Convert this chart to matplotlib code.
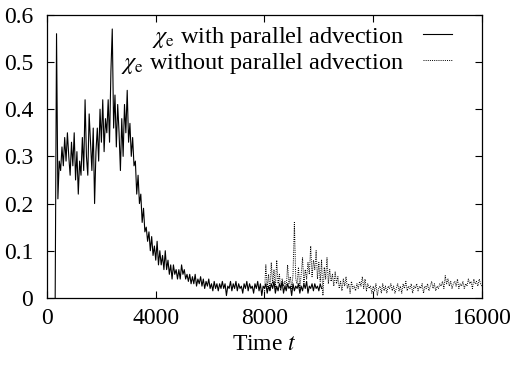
import matplotlib.pyplot as plt
import numpy as np

plt.rcParams['font.family'] = ['Liberation Serif', 'DejaVu Serif']
plt.rcParams['mathtext.fontset'] = 'stix'

# chi_e with parallel advection, sampled every 50 time units from t=300
t_with = np.arange(300, 10101, 50)
chi_with = [
    0.00, 0.56, 0.21, 0.29, 0.27, 0.32, 0.28, 0.34, 0.29, 0.35,
    0.30, 0.26, 0.33, 0.28, 0.35, 0.25, 0.31, 0.22, 0.29, 0.26,
    0.34, 0.27, 0.42, 0.30, 0.26, 0.39, 0.33, 0.27, 0.36, 0.20,
    0.31, 0.36, 0.29, 0.40, 0.33, 0.42, 0.31, 0.38, 0.35, 0.42,
    0.33, 0.48, 0.57, 0.36, 0.43, 0.32, 0.41, 0.35, 0.27, 0.38,
    0.30, 0.41, 0.35, 0.44, 0.33, 0.37, 0.30, 0.34, 0.28, 0.29,
    0.22, 0.26, 0.20, 0.22, 0.16, 0.19, 0.14, 0.15, 0.12, 0.14,
    0.10, 0.13, 0.09, 0.11, 0.08, 0.12, 0.07, 0.10, 0.07, 0.09,
    0.06, 0.10, 0.06, 0.08, 0.05, 0.07, 0.04, 0.07, 0.05, 0.06,
    0.04, 0.06, 0.04, 0.07, 0.05, 0.06, 0.04, 0.05, 0.035, 0.05,
    0.03, 0.045, 0.03, 0.05, 0.025, 0.04, 0.03, 0.045, 0.025, 0.04,
    0.02, 0.035, 0.025, 0.04, 0.02, 0.03, 0.015, 0.035, 0.02, 0.03,
    0.015, 0.03, 0.02, 0.035, 0.02, 0.03, 0.005, 0.025, 0.02, 0.035,
    0.015, 0.03, 0.02, 0.035, 0.015, 0.03, 0.02, 0.025, 0.01, 0.03,
    0.02, 0.035, 0.015, 0.03, 0.02, 0.025, 0.01, 0.03, 0.02, 0.035,
    0.015, 0.03, 0.005, 0.025, 0.02, 0.03, 0.01, 0.025, 0.015, 0.03,
    0.02, 0.035, 0.01, 0.025, 0.015, 0.03, 0.02, 0.035, 0.01, 0.025,
    0.015, 0.03, 0.02, 0.025, 0.005, 0.03, 0.015, 0.025, 0.02, 0.03,
    0.01, 0.025, 0.015, 0.03, 0.02, 0.035, 0.01, 0.025, 0.02, 0.03,
    0.015, 0.03, 0.02, 0.025, 0.015, 0.03, 0.02,
]

# chi_e without parallel advection, sampled every 50 time units from t=8000
t_without = np.arange(8000, 16001, 50)
chi_without = [
    0.01, 0.07, 0.02, 0.05, 0.015, 0.075, 0.03, 0.06, 0.02, 0.08,
    0.03, 0.05, 0.015, 0.04, 0.025, 0.035, 0.02, 0.07, 0.03, 0.045,
    0.02, 0.05, 0.16, 0.04, 0.03, 0.065, 0.02, 0.05, 0.085, 0.03,
    0.06, 0.04, 0.075, 0.05, 0.11, 0.045, 0.08, 0.06, 0.10, 0.04,
    0.075, 0.035, 0.08, 0.005, 0.065, 0.04, 0.085, 0.03, 0.06, 0.035,
    0.05, 0.025, 0.055, 0.03, 0.045, 0.02, 0.035, 0.015, 0.04, 0.025,
    0.045, 0.02, 0.03, 0.01, 0.035, 0.02, 0.025, 0.015, 0.03, 0.02,
    0.035, 0.025, 0.045, 0.02, 0.04, 0.015, 0.03, 0.02, 0.025, 0.01,
    0.025, 0.015, 0.03, 0.005, 0.02, 0.025, 0.01, 0.03, 0.015, 0.025,
    0.01, 0.025, 0.02, 0.03, 0.015, 0.025, 0.01, 0.02, 0.03, 0.015,
    0.025, 0.01, 0.03, 0.02, 0.035, 0.015, 0.025, 0.02, 0.03, 0.01,
    0.025, 0.02, 0.03, 0.015, 0.025, 0.02, 0.03, 0.01, 0.025, 0.02,
    0.03, 0.015, 0.025, 0.035, 0.02, 0.03, 0.015, 0.025, 0.02, 0.03,
    0.025, 0.035, 0.02, 0.047, 0.03, 0.04, 0.025, 0.035, 0.02, 0.03,
    0.035, 0.025, 0.04, 0.02, 0.03, 0.025, 0.035, 0.02, 0.03, 0.025,
    0.04, 0.03, 0.035, 0.02, 0.04, 0.03, 0.035, 0.025, 0.04, 0.03,
    0.025,
]

x_ticks = [0, 4000, 8000, 12000, 16000]
y_ticks = [0, 0.1, 0.2, 0.3, 0.4, 0.5, 0.6]
y_tick_labels = ['0', '0.1', '0.2', '0.3', '0.4', '0.5', '0.6']

fig = plt.figure(figsize=(5.19, 3.71), dpi=100)
ax = fig.add_axes([0.0906, 0.197, 0.838, 0.763])

l1, = ax.plot(t_with, chi_with, color='black', lw=0.8,
              label=r'$\chi_{\rm e}$ with parallel advection')
l2, = ax.plot(t_without, chi_without, color='black', lw=0.7,
              linestyle=(0, (1, 1.2)),
              label=r'$\chi_{\rm e}$ without parallel advection')

ax.set_xlim(0, 16000)
ax.set_ylim(0, 0.6)
ax.set_xticks(x_ticks)
ax.set_xticklabels([str(v) for v in x_ticks])
ax.set_yticks(y_ticks)
ax.set_yticklabels(y_tick_labels)
ax.tick_params(direction='in', top=True, right=True, length=5, width=0.8,
               labelsize=17)
ax.tick_params(axis='x', pad=7)
ax.tick_params(axis='y', pad=10)
for s in ax.spines.values():
    s.set_linewidth(0.9)

ax.set_xlabel('Time $t$', fontsize=17, labelpad=4)

ax.legend(handles=[l1, l2], loc='upper right', bbox_to_anchor=(0.931, 0.965),
          frameon=False, markerfirst=False, fontsize=17.5, handlelength=1.2,
          handletextpad=0.75, labelspacing=0.05, borderpad=0, borderaxespad=0)

fig.savefig('out.png', dpi=100)
